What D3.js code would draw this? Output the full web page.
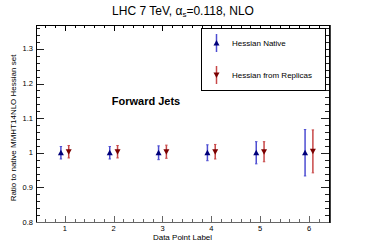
<!DOCTYPE html>
<html>
<head>
<meta charset="utf-8">
<script src="https://cdn.jsdelivr.net/npm/d3@7"></script>
<style>
  body { margin: 0; background: #fff; }
  svg { display: block; font-family: "Liberation Sans", Arial, sans-serif; }
</style>
</head>
<body>
<div id="chart-area"></div>
<script>
const WIDTH = 366;
const HEIGHT = 248;

// data
const points = [1, 2, 3, 4, 5, 6];
const nativeVals = [1.0, 1.0, 1.0, 1.0, 1.0, 1.0];
const nativeErr = [0.018, 0.018, 0.02, 0.023, 0.032, 0.067];
const replicaVals = [1.003, 1.003, 1.003, 1.003, 1.003, 1.004];
const replicaErr = [0.018, 0.018, 0.019, 0.021, 0.029, 0.062];
const yTicks = [0.8, 0.9, 1, 1.1, 1.2, 1.3];
const legendLabels = ["Hessian Native", "Hessian from Replicas"];

const frame = {left: 36, right: 329, top: 25, bottom: 222};

const x = d3.scaleLinear().domain([0.41, 6.41]).range([frame.left, frame.right]);
const y = d3.scaleLinear().domain([0.8, 1.369]).range([frame.bottom, frame.top]);

const svg = d3.select('#chart-area').append('svg')
    .attr("width", WIDTH)
    .attr("height", HEIGHT);

// title
const title = svg.append("text")
    .attr("x", 183)
    .attr("y", 15)
    .attr("text-anchor", "middle")
    .attr("font-size", 12)
    .attr("fill", "#000");
title.append("tspan").text("LHC 7 TeV, α");
title.append("tspan").attr("font-size", 8).attr("dy", 2).text("s");
title.append("tspan").attr("dy", -2).text("=0.118, NLO");

// ticks (root style, inside the frame on all four sides)
const g = svg.append("g").attr("stroke-width", 1);

const xMinor = d3.range(0.6, 6.41, 0.2).map(v => +v.toFixed(2));
xMinor.forEach(v => {
    const major = Math.abs(v - Math.round(v)) < 1e-6;
    const len = major ? 6 : 3;
    const px = Math.round(x(v)) + 0.5;
    g.append("line").attr("x1", px).attr("x2", px)
        .attr("y1", frame.bottom).attr("y2", frame.bottom - len)
        .attr("stroke", "#666");
    g.append("line").attr("x1", px).attr("x2", px)
        .attr("y1", frame.top).attr("y2", frame.top + len)
        .attr("stroke", "#000");
});

const yMinor = d3.range(0.82, 1.369, 0.02).map(v => +v.toFixed(2));
yMinor.forEach(v => {
    const major = Math.abs(v * 10 - Math.round(v * 10)) < 1e-6;
    const len = major ? 8 : 4;
    const py = Math.round(y(v)) + 0.5;
    g.append("line").attr("y1", py).attr("y2", py)
        .attr("x1", frame.left).attr("x2", frame.left + len)
        .attr("stroke", "#222");
    g.append("line").attr("y1", py).attr("y2", py)
        .attr("x1", frame.right).attr("x2", frame.right - len)
        .attr("stroke", "#222");
});

// frame
svg.append("rect")
    .attr("x", frame.left + 0.5)
    .attr("y", frame.top + 0.5)
    .attr("width", frame.right - frame.left)
    .attr("height", frame.bottom - frame.top)
    .attr("fill", "none")
    .attr("stroke", "#000");
svg.append("line")
    .attr("x1", frame.left).attr("x2", frame.right + 1)
    .attr("y1", frame.bottom + 0.5).attr("y2", frame.bottom + 0.5)
    .attr("stroke", "#666");
svg.append("line")
    .attr("x1", frame.right + 1).attr("x2", frame.right + 1)
    .attr("y1", frame.top).attr("y2", frame.bottom + 1)
    .attr("stroke", "#000")
    .attr("stroke-width", 1.5);

// tick labels
svg.append("g").selectAll("text")
    .data(yTicks)
    .join("text")
    .attr("x", frame.left - 3)
    .attr("y", d => y(d) + 2.5)
    .attr("text-anchor", "end")
    .attr("font-size", 7.5)
    .text(d => d);

svg.append("g").selectAll("text")
    .data(points)
    .join("text")
    .attr("x", d => x(d))
    .attr("y", 231)
    .attr("text-anchor", "middle")
    .attr("font-size", 7.5)
    .text(d => d);

// axis titles
svg.append("text")
    .attr("x", (frame.left + frame.right) / 2)
    .attr("y", 240)
    .attr("text-anchor", "middle")
    .attr("font-size", 8)
    .text("Data Point Label");

svg.append("text")
    .attr("transform", "translate(16,128) rotate(-90)")
    .attr("text-anchor", "middle")
    .attr("font-size", 8)
    .text("Ratio to native MMHT14NLO Hessian set");

// label in plot
svg.append("text")
    .attr("x", 146)
    .attr("y", 105)
    .attr("text-anchor", "middle")
    .attr("font-size", 11)
    .attr("font-weight", "bold")
    .text("Forward Jets");

const series = [
    {vals: nativeVals, errs: nativeErr, off: -0.08, bar: "#4d4dd2", mark: "#00007a", up: true},
    {vals: replicaVals, errs: replicaErr, off: 0.08, bar: "#c84848", mark: "#7a0000", up: false}
];

const tri = (cx, cy, up) => up
    ? `M${cx - 3},${cy + 2.5} L${cx + 3},${cy + 2.5} L${cx},${cy - 3} Z`
    : `M${cx - 3},${cy - 2.5} L${cx + 3},${cy - 2.5} L${cx},${cy + 3} Z`;

series.forEach(s => {
    const sg = svg.append("g");
    const data = points.map((p, i) => ({p: p, v: s.vals[i], e: s.errs[i]}));
    sg.selectAll("line.bar")
        .data(data)
        .join("line")
        .attr("class", "bar")
        .attr("x1", d => x(d.p + s.off))
        .attr("x2", d => x(d.p + s.off))
        .attr("y1", d => y(d.v - d.e))
        .attr("y2", d => y(d.v + d.e))
        .attr("stroke", s.bar)
        .attr("stroke-width", 1.5);
    [-1, 1].forEach(sign => {
        sg.selectAll(null)
            .data(data)
            .join("line")
            .attr("x1", d => x(d.p + s.off) - 1.2)
            .attr("x2", d => x(d.p + s.off) + 1.2)
            .attr("y1", d => y(d.v + sign * d.e))
            .attr("y2", d => y(d.v + sign * d.e))
            .attr("stroke", s.bar)
            .attr("stroke-width", 1);
    });
    sg.selectAll("path")
        .data(data)
        .join("path")
        .attr("d", d => tri(x(d.p + s.off), y(d.v), s.up))
        .attr("fill", s.mark);
});

// legend
const leg = svg.append("g");
leg.append("rect")
    .attr("x", 201.5)
    .attr("y", 28.5)
    .attr("width", 124)
    .attr("height", 62)
    .attr("fill", "#fff")
    .attr("stroke", "#000");

legendLabels.forEach((label, i) => {
    const s = series[i];
    const cy = i === 0 ? 43 : 75;
    leg.append("line")
        .attr("x1", 216.5).attr("x2", 216.5)
        .attr("y1", cy - 9).attr("y2", cy + 9)
        .attr("stroke", s.bar)
        .attr("stroke-width", 1.5);
    leg.append("path")
        .attr("d", tri(216.5, cy, s.up))
        .attr("fill", s.mark);
    leg.append("text")
        .attr("x", 232)
        .attr("y", cy + 3)
        .attr("font-size", 8)
        .text(label);
});
</script>
</body>
</html>
